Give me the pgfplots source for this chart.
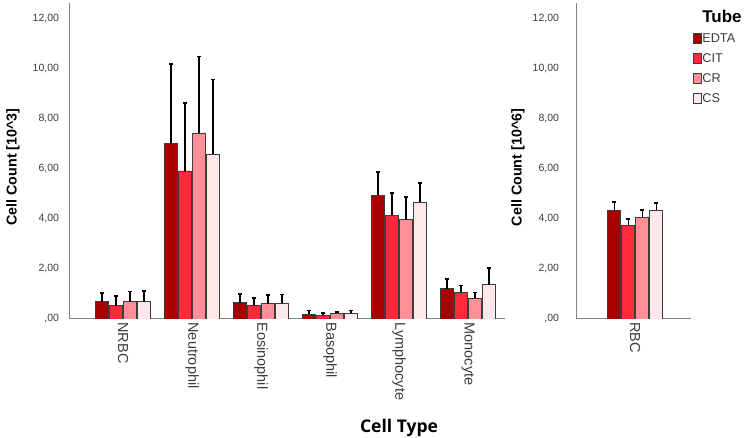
\documentclass[border=0pt]{standalone}
\usepackage{pgfplots}
\pgfplotsset{compat=1.18}
\usepackage{pgfplotstable}
\usepackage{fontspec}
\setmainfont{Liberation Sans}
\newfontfamily\opensans{Open Sans}
\definecolor{cEDTA}{RGB}{168,0,0}
\definecolor{cCIT}{RGB}{255,43,58}
\definecolor{cCR}{RGB}{255,142,150}
\definecolor{cCS}{RGB}{255,232,232}
\definecolor{bord}{RGB}{60,60,60}
\definecolor{axcol}{RGB}{130,130,130}
\definecolor{txt}{RGB}{60,60,60}

\pgfplotstableread{
x edta edtae cit cite cr cre cs cse
0 0.69 0.34 0.53 0.39 0.69 0.41 0.69 0.42
1 7.03 3.18 5.92 2.73 7.44 3.06 6.60 2.98
2 0.65 0.34 0.54 0.30 0.61 0.34 0.62 0.36
3 0.19 0.15 0.15 0.09 0.23 0.06 0.23 0.11
4 4.95 0.93 4.15 0.88 3.97 0.90 4.67 0.78
5 1.21 0.39 1.06 0.28 0.82 0.24 1.37 0.66
}\lefttab
\pgfplotstableread{
x edta edtae cit cite cr cre cs cse
0 4.33 0.35 3.75 0.25 4.08 0.28 4.35 0.30
}\righttab

\pgfplotsset{
  panel/.style={
    scale only axis,
    height=316pt,
    ymin=0, ymax=12.64,
    axis x line=bottom, axis y line=left,
    axis line style={-, axcol, line width=1pt},
    major tick length=0pt,
    ytick={0,2,4,6,8,10,12},
    yticklabels={{,00},{2,00},{4,00},{6,00},{8,00},{10,00},{12,00}},
    yticklabel style={font=\fontsize{10.5}{12}\selectfont, text=txt},
    xticklabel style={font=\fontsize{14.5}{16}\selectfont, text=txt, rotate=-90, anchor=west},
    ybar=1pt, bar width=13pt,
    every axis plot/.append style={draw=bord, line width=0.9pt,
      error bars/y dir=plus, error bars/y explicit,
      error bars/error bar style={black, line width=1.1pt},
      error bars/error mark=-, error bars/error mark options={rotate=90, black, line width=1.6pt, mark size=2pt}},
  },
}

\begin{document}
\begin{tikzpicture}
\useasboundingbox (0pt,0pt) rectangle (754pt,438pt);
\begin{axis}[panel,
  at={(69pt,119pt)}, anchor=south west,
  width=436pt,
  xmin=-0.783, xmax=5.536,
  xtick={0,1,2,3,4,5},
  xticklabels={NRBC,Neutrophil,Eosinophil,Basophil,Lymphocyte,Monocyte},
  yticklabel style={xshift=-6.5pt},
]
\addplot[fill=cEDTA] table[x=x,y=edta,y error plus=edtae]{\lefttab};
\addplot[fill=cCIT] table[x=x,y=cit,y error plus=cite]{\lefttab};
\addplot[fill=cCR] table[x=x,y=cr,y error plus=cre]{\lefttab};
\addplot[fill=cCS] table[x=x,y=cs,y error plus=cse]{\lefttab};
\end{axis}
\begin{axis}[panel,
  at={(576pt,119pt)}, anchor=south west,
  width=115pt,
  xmin=-0.86, xmax=0.81,
  xtick={0}, xticklabels={RBC},
  yticklabel style={xshift=-13.5pt},
  legend style={at={(axis description cs:1.015,0.905)}, anchor=north west,
    draw=none, fill=none, inner sep=0pt, row sep=8.5pt,
    font=\fontsize{12.7}{14}\selectfont, text=txt,
    nodes={inner sep=0.5pt}},
  legend cell align=left,
  legend image code/.code={\draw[#1, line width=0.9pt, draw=bord] (0pt,-5pt) rectangle (8pt,5pt);},
]
\addplot[fill=cEDTA] table[x=x,y=edta,y error plus=edtae]{\righttab};
\addplot[fill=cCIT] table[x=x,y=cit,y error plus=cite]{\righttab};
\addplot[fill=cCR] table[x=x,y=cr,y error plus=cre]{\righttab};
\addplot[fill=cCS] table[x=x,y=cs,y error plus=cse]{\righttab};
\legend{EDTA,CIT,CR,CS}
\end{axis}
\node[rotate=90, font=\bfseries\fontsize{14.3}{16}\selectfont] at (13pt,271pt) {Cell Count [10\^{}3]};
\node[rotate=90, font=\bfseries\fontsize{14.3}{16}\selectfont] at (518pt,270.5pt) {Cell Count [10\^{}6]};
\node[font=\opensans\bfseries\fontsize{17.5}{20}\selectfont] at (399pt,10.5pt) {Cell Type};
\node[font=\bfseries\fontsize{17}{20}\selectfont] at (722pt,422pt) {Tube};
\end{tikzpicture}
\end{document}
